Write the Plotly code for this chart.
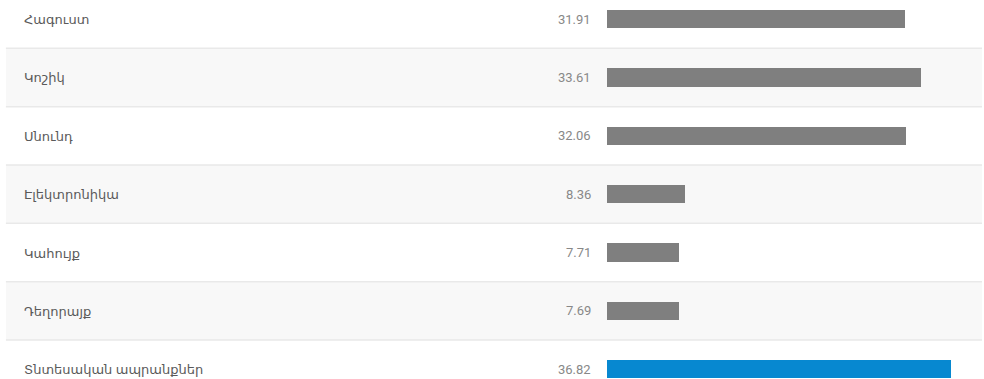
import plotly.graph_objects as go

# Category names and their values
categories = [
    "Հագուստ",
    "Կոշիկ",
    "Սնունդ",
    "Էլեկտրոնիկա",
    "Կահույք",
    "Դեղորայք",
    "Տնտեսական ապրանքներ",
]
values = [31.91, 33.61, 32.06, 8.36, 7.71, 7.69, 36.82]
value_labels = ["31.91", "33.61", "32.06", "8.36", "7.71", "7.69", "36.82"]
highlight = "Տնտեսական ապրանքներ"

GRAY_BAR = "#7f7f7f"
BLUE_BAR = "#0788d0"
STRIPE = "#f8f8f8"
RULE = "#e9e9e9"
LABEL_FONT = "Noto Sans, DejaVu Sans, sans-serif"
VALUE_FONT = "Roboto, Open Sans, sans-serif"

idx = list(range(len(categories)))
colors = [BLUE_BAR if c == highlight else GRAY_BAR for c in categories]

fig = go.Figure(
    go.Bar(
        x=values,
        y=idx,
        orientation="h",
        width=0.31,
        marker=dict(color=colors, line=dict(width=0)),
        hoverinfo="skip",
    )
)

shapes = []
annotations = []
for i, (cat, lab) in enumerate(zip(categories, value_labels)):
    # alternating row stripes
    if i % 2 == 1:
        shapes.append(dict(
            type="rect", xref="paper", yref="y",
            x0=0.006, x1=0.998, y0=i - 0.5, y1=i + 0.5,
            fillcolor=STRIPE, line=dict(width=0), layer="below",
        ))
    # row divider
    if i > 0:
        shapes.append(dict(
            type="line", xref="paper", yref="y",
            x0=0.006, x1=0.998, y0=i - 0.5, y1=i - 0.5,
            line=dict(color=RULE, width=1.5), layer="below",
        ))
    # category label on the left
    annotations.append(dict(
        xref="paper", yref="y", x=0.022, y=i, text=cat,
        xanchor="left", yanchor="middle", showarrow=False,
        font=dict(family=LABEL_FONT, size=13, color="#5a5a5a"),
    ))
    # value next to the bar start
    annotations.append(dict(
        xref="x", yref="y", x=0, y=i, text=lab,
        xanchor="right", yanchor="middle", showarrow=False, xshift=-14,
        font=dict(family=VALUE_FONT, size=13, color="#888888"),
    ))

fig.update_layout(
    width=984,
    height=379,
    margin=dict(l=0, r=0, t=0, b=0),
    paper_bgcolor="white",
    plot_bgcolor="rgba(0,0,0,0)",
    showlegend=False,
    bargap=0,
    shapes=shapes,
    annotations=annotations,
    xaxis=dict(
        domain=[606.7 / 984, 1],
        range=[0, 377.3 / 9.34],
        visible=False,
        fixedrange=True,
    ),
    yaxis=dict(
        range=[6.168, -0.328],
        visible=False,
        fixedrange=True,
    ),
)

fig.write_html("out.html")
